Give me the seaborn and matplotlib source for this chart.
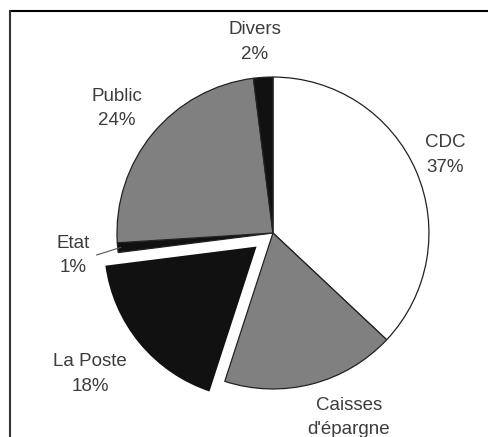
import numpy as np
import seaborn as sns
import matplotlib.pyplot as plt
from matplotlib.lines import Line2D

# Data
names = ["CDC", "Caisses\nd'épargne", "La Poste", "Etat", "Public", "Divers"]
values = [37, 18, 18, 1, 24, 2]
slice_colors = ["#ffffff", "#808080", "#111111", "#111111", "#808080", "#111111"]
# the percentage under "Caisses d'épargne" falls below the cropped scan
show_pct = [True, False, True, True, True, True]

# label placement (distance from centre, angle shift in degrees)
label_dist = [1.21, 1.28, 1.48, 1.29, 1.28, 1.23]
label_shift = [1.0, 8.0, -2.0, 1.0, 1.0, 1.8]
explode = [0, 0, 0.12, 0, 0, 0]

sns.set_style("white")
plt.rcParams["font.family"] = ["Liberation Sans", "DejaVu Sans"]

fig = plt.figure(figsize=(4.89, 4.37), dpi=100)
ax = fig.add_axes([0, 0, 1, 1])
ax.set_axis_off()

wedges, _ = ax.pie(values, colors=slice_colors, startangle=90, counterclock=False,
                   explode=explode, radius=1.0,
                   wedgeprops=dict(edgecolor="#222222", linewidth=0.9))
wedges[2].set_edgecolor("white")
wedges[2].set_linewidth(2.0)

for w, name, v, d, s, sp in zip(wedges, names, values, label_dist, label_shift, show_pct):
    mid = np.deg2rad((w.theta1 + w.theta2) / 2 + s)
    txt = f"{name}\n{v}%" if sp else name
    ax.text(d * np.cos(mid), d * np.sin(mid), txt, ha="center", va="center",
            fontsize=13.5, color="#3c3c3c", linespacing=1.6)

# leader line for Etat
w = wedges[3]
mid = np.deg2rad((w.theta1 + w.theta2) / 2)
ax.plot([0.98 * np.cos(mid), 1.14 * np.cos(mid + 0.03)],
        [0.98 * np.sin(mid), 1.14 * np.sin(mid + 0.03)], color="#555555", lw=0.8)

ax.set_xlim(-1.75, 1.385)
ax.set_ylim(-1.308, 1.494)
ax.set_aspect("auto")

# frame (only top and left visible in the crop)
fig.add_artist(Line2D([10 / 489, 1], [1 - 11 / 437, 1 - 11 / 437], transform=fig.transFigure,
                      color="black", lw=1.5))
fig.add_artist(Line2D([10 / 489, 10 / 489], [0, 1 - 11 / 437], transform=fig.transFigure,
                      color="#333333", lw=1.5))

fig.savefig("out.png", dpi=100)
